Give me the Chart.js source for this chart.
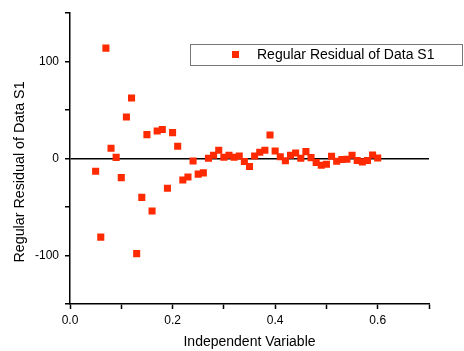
<!DOCTYPE html>
<html>
<head>
<meta charset="utf-8">
<script src="https://cdn.jsdelivr.net/npm/chart.js@4"></script>
<style>
  html, body { margin: 0; padding: 0; background: #fff; }
  #wrap { width: 464px; height: 351px; }
</style>
</head>
<body>
<div id="wrap"><canvas id="residChart"></canvas></div>
<script>
const xValues = [0.05, 0.06, 0.07, 0.08, 0.09, 0.10, 0.11, 0.12, 0.13, 0.14,
                 0.15, 0.16, 0.17, 0.18, 0.19, 0.20, 0.21, 0.22, 0.23, 0.24,
                 0.25, 0.26, 0.27, 0.28, 0.29, 0.30, 0.31, 0.32, 0.33, 0.34,
                 0.35, 0.36, 0.37, 0.38, 0.39, 0.40, 0.41, 0.42, 0.43, 0.44,
                 0.45, 0.46, 0.47, 0.48, 0.49, 0.50, 0.51, 0.52, 0.53, 0.54,
                 0.55, 0.56, 0.57, 0.58, 0.59, 0.60];
const residuals = [-13, -81, 114, 10.6, 1.3, -19.6, 43, 62.6, -98, -40,
                   24.7, -54, 28.5, 30, -30.6, 26.8, 12.7, -22, -19, -2.4,
                   -16, -14.7, 0.3, 3.4, 8.6, 1.4, 3.4, 1.4, 2.7, -3,
                   -8.2, 2.7, 6.5, 8.6, 24.4, 7.9, 2, -2.2, 3.4, 5.8,
                   0.3, 7.2, 1, -4.1, -6.9, -5.8, 2.4, -2.7, -1, -0.7,
                   3.4, -2, -3.4, -2, 3.8, 0.7];
const seriesLabel = 'Regular Residual of Data S1';
const yTitle = 'Regular Residual of Data S1';
const xTickLabels = ['0.0', '0.2', '0.4', '0.6'];
const yTickLabels = ['-100', '0', '100'];

const points = xValues.map((x, i) => ({ x: x, y: residuals[i] }));
const fontFamily = '"Liberation Sans", Arial, sans-serif';
const red = '#ff2a00';

// legend with a framed box inside the plot, plus the y title
const boxLegend = {
    id: 'boxLegend',
    afterDraw(chart) {
        const c = chart.ctx;
        const ds = chart.data.datasets[0];
        c.save();
        c.strokeStyle = '#777';
        c.lineWidth = 1;
        c.strokeRect(190.5, 44.5, 272, 21);
        c.fillStyle = ds.backgroundColor;
        c.fillRect(232, 51, 7, 7);
        c.fillStyle = '#000';
        c.font = '14px ' + fontFamily;
        c.textBaseline = 'middle';
        c.fillText(ds.label, 257, 55.5);

        c.translate(20, 172);
        c.rotate(-Math.PI / 2);
        c.textAlign = 'center';
        c.font = '14.3px ' + fontFamily;
        c.fillText(yTitle, 0, 0);
        c.restore();
    }
};

new Chart(document.getElementById('residChart'), {
    type: 'scatter',
    data: {
        datasets: [{
            label: seriesLabel,
            data: points,
            pointStyle: 'rect',
            pointRadius: 5,
            pointHoverRadius: 5,
            backgroundColor: red,
            borderColor: red,
            borderWidth: 0
        }]
    },
    options: {
        responsive: true,
        maintainAspectRatio: false,
        animation: false,
        layout: { padding: { top: 12, right: 35, left: 0, bottom: 0 } },
        plugins: {
            legend: { display: false },
            tooltip: { enabled: false }
        },
        scales: {
            x: {
                type: 'linear',
                min: 0,
                max: 0.7,
                afterFit: s => { s.height = 47; },
                border: { display: true, color: '#000', width: 1.5 },
                grid: { display: true, drawOnChartArea: false, tickLength: 5, tickColor: '#000', tickWidth: 1.5 },
                ticks: {
                    stepSize: 0.1,
                    padding: 4,
                    color: '#000',
                    font: { family: fontFamily, size: 12 },
                    callback: v => {
                        const s = v.toFixed(1);
                        return xTickLabels.includes(s) ? s : '';
                    }
                },
                title: {
                    display: true,
                    text: 'Independent Variable',
                    color: '#000',
                    font: { family: fontFamily, size: 14 },
                    padding: { top: 3, bottom: 0 }
                }
            },
            y: {
                min: -150,
                max: 150,
                afterFit: s => { s.width = 70; },
                border: { display: true, color: '#000', width: 1.5 },
                grid: {
                    display: true,
                    drawOnChartArea: true,
                    tickLength: 5,
                    tickColor: '#000',
                    tickWidth: 1.5,
                    lineWidth: 1.5,
                    color: ctx => (ctx.tick && ctx.tick.value === 0) ? '#000' : 'rgba(0,0,0,0)'
                },
                ticks: {
                    stepSize: 50,
                    padding: 6,
                    color: '#000',
                    font: { family: fontFamily, size: 12 },
                    callback: v => {
                        const s = String(Math.round(v));
                        return yTickLabels.includes(s) ? s : '';
                    }
                }
            }
        }
    },
    plugins: [boxLegend]
});
</script>
</body>
</html>
